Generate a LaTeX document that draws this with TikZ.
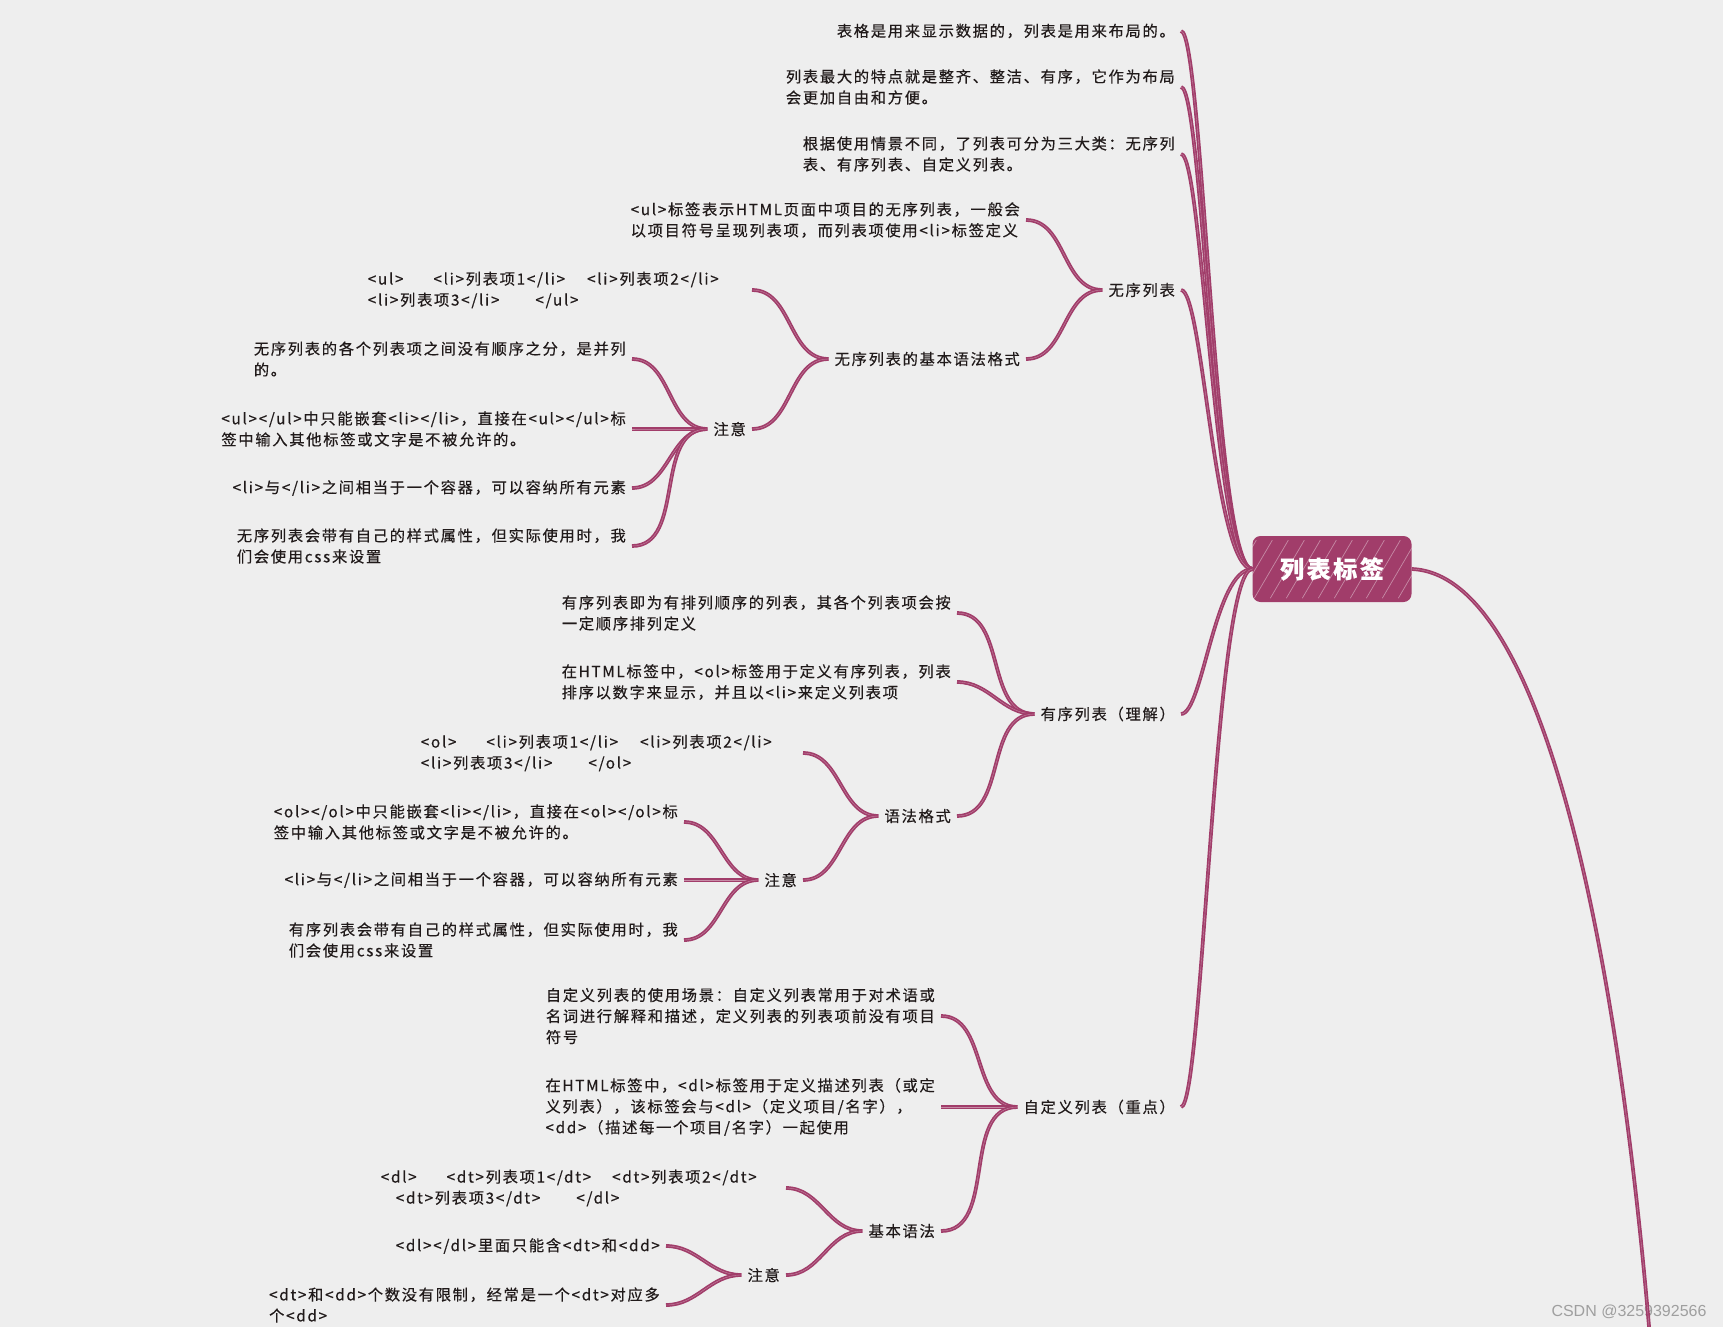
\documentclass[tikz,border=0pt]{standalone}
\usepackage{fontspec}
\setmainfont{Noto Sans CJK SC}[LetterSpace=11, FakeBold=0.4]
\newfontfamily\markfont{Liberation Sans}
\usepackage{tikz}

\definecolor{paper}{RGB}{238,238,238}
\definecolor{plum}{RGB}{161,61,106}
\definecolor{ink}{RGB}{32,26,26}

\begin{document}
\begin{tikzpicture}[
  x=1pt, y=-1pt,
  topic/.style={anchor=east, align=left, text=ink, inner xsep=6pt, inner ysep=2pt,
                font=\fontsize{15.3}{21}\selectfont},
  codebox/.style={topic, text width=#1},
  rootbox/.style={fill=plum, rounded corners=8pt, minimum width=159pt,
                  minimum height=66pt, text=white,
                  font=\fontsize{24}{28}\selectfont\bfseries},
  link/.style={draw=plum, line width=1.7pt, double=plum!60!white, double distance=0.35pt},
  brace/.style={link, out=0, in=180}
]
\useasboundingbox (0,0) rectangle (1723,1327);
\fill[paper] (0,0) rectangle (1723,1327);
\clip (0,0) rectangle (1723,1327);

\node[rootbox] (root) at (1332,569) {列表标签};
\begin{scope}
  \clip[rounded corners=8pt] (root.south west) rectangle (root.north east);
  \foreach \s in {0,16,...,200}
    \draw[white, opacity=.4, line width=.7pt] ([xshift=\s pt-30pt, yshift=4pt]root.south west) -- ++(34,-58);
\end{scope}

% first level
\node[topic] (intro1) at (1181,31)  {表格是用来显示数据的，列表是用来布局的。};
\node[topic] (intro2) at (1181,87)  {列表最大的特点就是整齐、整洁、有序，它作为布局\\会更加自由和方便。};
\node[topic] (intro3) at (1181,154) {根据使用情景不同，了列表可分为三大类：无序列\\表、有序列表、自定义列表。};
\node[topic] (ulist)  at (1181,290) {无序列表};
\node[topic] (olist)  at (1181,714) {有序列表（理解）};
\node[topic] (dlist)  at (1181,1107) {自定义列表（重点）};
\coordinate (rnext) at (1660,1480);

% unordered list
\node[topic] (ulabout) at (1026,220) {<ul>标签表示HTML页面中项目的无序列表，一般会\\以项目符号呈现列表项，而列表项使用<li>标签定义};
\node[topic] (ulsyn)   at (1026,359) {无序列表的基本语法格式};
\node[codebox=378pt] (ulcode) at (752,290)
  {<ul>\hspace*{30pt}<li>列表项1</li>\hspace*{22pt}<li>列表项2</li>\\<li>列表项3</li>\hspace*{36pt}</ul>};
\node[topic] (ulnote) at (752,429) {注意};
\node[topic] (ulnote1) at (632,359) {无序列表的各个列表项之间没有顺序之分，是并列\\的。};
\node[topic] (ulnote2) at (632,429) {<ul></ul>中只能嵌套<li></li>，直接在<ul></ul>标\\签中输入其他标签或文字是不被允许的。};
\node[topic] (ulnote3) at (632,488) {<li>与</li>之间相当于一个容器，可以容纳所有元素};
\node[topic] (ulnote4) at (632,546) {无序列表会带有自己的样式属性，但实际使用时，我\\们会使用css来设置};

% ordered list
\node[topic] (olabout1) at (957,613) {有序列表即为有排列顺序的列表，其各个列表项会按\\一定顺序排列定义};
\node[topic] (olabout2) at (957,682) {在HTML标签中，<ol>标签用于定义有序列表，列表\\排序以数字来显示，并且以<li>来定义列表项};
\node[topic] (olsyn)    at (957,816) {语法格式};
\node[codebox=376pt] (olcode) at (803,753)
  {<ol>\hspace*{30pt}<li>列表项1</li>\hspace*{22pt}<li>列表项2</li>\\<li>列表项3</li>\hspace*{36pt}</ol>};
\node[topic] (olnote) at (803,880) {注意};
\node[topic] (olnote1) at (684,822) {<ol></ol>中只能嵌套<li></li>，直接在<ol></ol>标\\签中输入其他标签或文字是不被允许的。};
\node[topic] (olnote2) at (684,880) {<li>与</li>之间相当于一个容器，可以容纳所有元素};
\node[topic] (olnote3) at (684,940) {有序列表会带有自己的样式属性，但实际使用时，我\\们会使用css来设置};

% definition list
\node[topic] (dlabout1) at (941,1016) {自定义列表的使用场景：自定义列表常用于对术语或\\名词进行解释和描述，定义列表的列表项前没有项目\\符号};
\node[topic] (dlabout2) at (941,1107) {在HTML标签中，<dl>标签用于定义描述列表（或定\\义列表），该标签会与<dl>（定义项目/名字），\\<dd>（描述每一个项目/名字）一起使用};
\node[topic] (dlsyn)    at (941,1231) {基本语法};
\node[codebox=399pt] (dlcode) at (786,1188)
  {<dl>\hspace*{30pt}<dt>列表项1</dt>\hspace*{21pt}<dt>列表项2</dt>\\\hspace*{15pt}<dt>列表项3</dt>\hspace*{36pt}</dl>};
\node[topic] (dlnote) at (786,1275) {注意};
\node[topic] (dlnote1) at (666,1246) {<dl></dl>里面只能含<dt>和<dd>};
\node[topic] (dlnote2) at (666,1305) {<dt>和<dd>个数没有限制，经常是一个<dt>对应多\\个<dd>};

\node[font=\markfont\fontsize{16}{18}\selectfont, text=gray!75] (mark) at (1629,1312) {CSDN @3259392566};

% root links
\foreach \n in {intro1,intro2,intro3,ulist,olist,dlist}
  \draw[link] (\n.east) .. controls +(22,0) and +(-38,0) .. (root.west);
\draw[link] (root.east) .. controls (1560,575) and (1635,1050) .. (rnext);

% unordered list links
\draw[brace] (ulabout.east) to (ulist.west);
\draw[brace] (ulsyn.east) to (ulist.west);
\draw[brace] (ulcode.east) to (ulsyn.west);
\draw[brace] (ulnote.east) to (ulsyn.west);
\foreach \n in {ulnote1,ulnote2,ulnote3,ulnote4}
  \draw[brace] (\n.east) to (ulnote.west);

% ordered list links
\foreach \n in {olabout1,olabout2,olsyn}
  \draw[brace] (\n.east) to (olist.west);
\draw[brace] (olcode.east) to (olsyn.west);
\draw[brace] (olnote.east) to (olsyn.west);
\foreach \n in {olnote1,olnote2,olnote3}
  \draw[brace] (\n.east) to (olnote.west);

% definition list links
\foreach \n in {dlabout1,dlabout2,dlsyn}
  \draw[brace] (\n.east) to (dlist.west);
\draw[brace] (dlcode.east) to (dlsyn.west);
\draw[brace] (dlnote.east) to (dlsyn.west);
\foreach \n in {dlnote1,dlnote2}
  \draw[brace] (\n.east) to (dlnote.west);
\end{tikzpicture}
\end{document}
